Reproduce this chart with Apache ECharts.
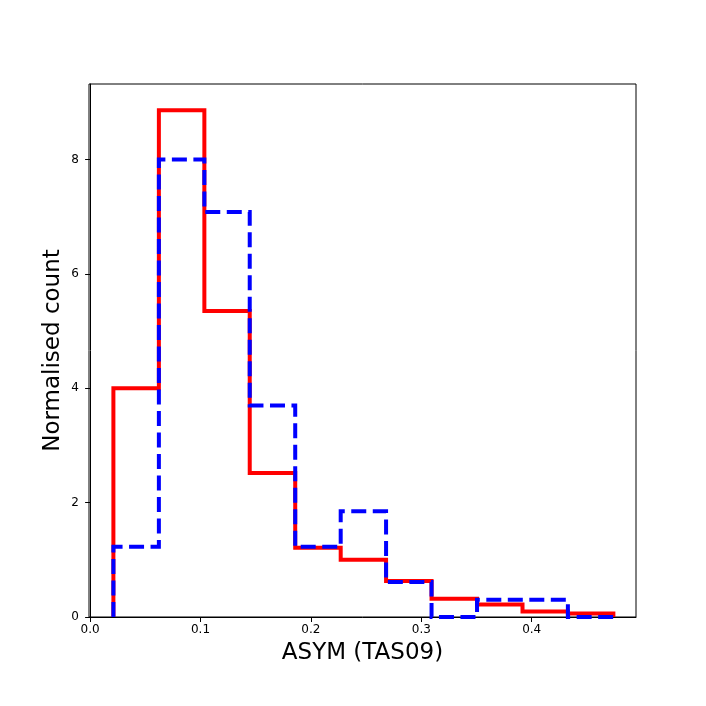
<!DOCTYPE html>
<html>
<head>
<meta charset="utf-8">
<script src="https://cdn.jsdelivr.net/npm/echarts@6/dist/echarts.min.js"></script>
<style>
  html, body { margin: 0; padding: 0; background: #fff; }
  #chart { width: 706px; height: 706px; }
</style>
</head>
<body>
<div id="chart"></div>
<script>
// bin edges
const binEdges = [0.0211, 0.0623, 0.1035, 0.1446, 0.1858, 0.2270, 0.2681, 0.3093, 0.3505, 0.3917, 0.4328, 0.4740];
// normalised counts per bin
const redCounts = [4.00, 8.86, 5.35, 2.52, 1.21, 1.00, 0.63, 0.32, 0.22, 0.095, 0.06];
const blueCounts = [1.23, 8.00, 7.08, 3.70, 1.23, 1.85, 0.61, 0.0, 0.30, 0.30, 0.0];
const xTicks = [0.0, 0.1, 0.2, 0.3, 0.4];
const yTicks = [0, 2, 4, 6, 8];

// outline of a step histogram: up at the first edge, across each bin, down at the last edge
function stepPath(edges, counts) {
    let pts = [[edges[0], 0]];
    counts.forEach((c, i) => {
        pts.push([edges[i], c]);
        pts.push([edges[i + 1], c]);
    });
    pts.push([edges[edges.length - 1], 0]);
    return pts;
}

const chart = echarts.init(document.getElementById("chart"));
const tickFont = { fontFamily: "DejaVu Sans", fontSize: 12, color: "#000" };

chart.setOption({
    animation: false,
    grid: {
        left: 89, right: 70, top: 84, bottom: 89,
        show: true, borderColor: "#000", borderWidth: 1, backgroundColor: "transparent",
    },
    xAxis: {
        type: "value",
        min: -0.001, max: 0.4945,
        name: "ASYM (TAS09)",
        nameLocation: "middle",
        nameGap: 25,
        nameMoveOverlap: false,
        nameTextStyle: { fontFamily: "DejaVu Sans", fontSize: 23, color: "#000" },
        axisLine: { show: true, onZero: false, lineStyle: { color: "#000", width: 1 } },
        axisTick: { show: true, length: 5, lineStyle: { color: "#000" }, customValues: xTicks },
        axisLabel: Object.assign({ margin: 7, customValues: xTicks, formatter: v => v.toFixed(1) }, tickFont),
        splitLine: { show: false },
    },
    yAxis: {
        type: "value",
        min: 0, max: 9.32,
        name: "Normalised count",
        nameLocation: "middle",
        nameGap: 24,
        nameMoveOverlap: false,
        nameTextStyle: { fontFamily: "DejaVu Sans", fontSize: 23, color: "#000" },
        axisLine: { show: true, lineStyle: { color: "#000", width: 1 } },
        axisTick: { show: true, length: 5, lineStyle: { color: "#000" }, customValues: yTicks },
        axisLabel: Object.assign({ margin: 10, customValues: yTicks, formatter: v => String(v) }, tickFont),
        splitLine: { show: false },
    },
    series: [
        {
            type: "line",
            data: stepPath(binEdges, redCounts),
            showSymbol: false,
            lineStyle: { color: "#ff0000", width: 4, join: "miter", cap: "butt" },
        },
        {
            type: "line",
            data: stepPath(binEdges, blueCounts),
            showSymbol: false,
            lineStyle: { color: "#0000ff", width: 4, type: [15, 6.5], join: "miter", cap: "butt" },
        },
    ],
});
</script>
</body>
</html>
